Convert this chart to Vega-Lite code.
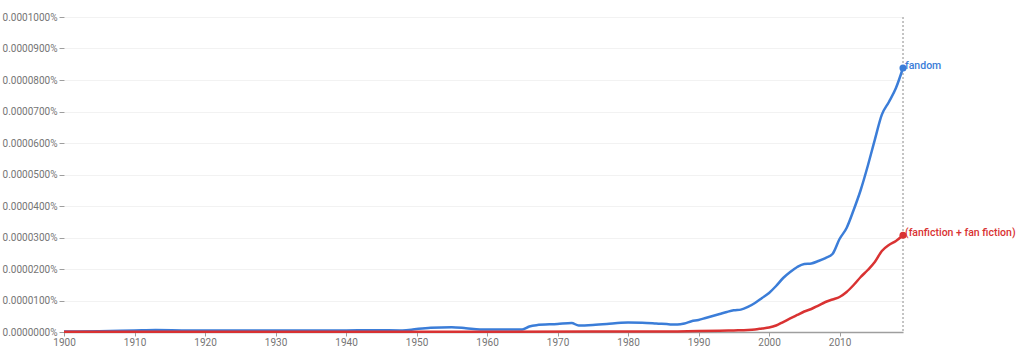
{
  "$schema": "https://vega.github.io/schema/vega-lite/v6.json",
  "width": 839,
  "height": 315,
  "autosize": {"type": "none"},
  "padding": {"left": 64, "top": 17, "right": 118, "bottom": 24},
  "background": "white",
  "config": {
    "view": {"stroke": null},
    "font": "Roboto",
    "axis": {"labelFont": "Roboto", "labelColor": "#757575", "labelFontSize": 10}
  },
  "data": {
    "values": [
      {"year": 1900, "value": 1.6e-9, "series": "fandom"},
      {"year": 1905, "value": 2.5e-9, "series": "fandom"},
      {"year": 1910, "value": 4.8e-9, "series": "fandom"},
      {"year": 1913, "value": 6.3e-9, "series": "fandom"},
      {"year": 1917, "value": 5.1e-9, "series": "fandom"},
      {"year": 1920, "value": 4.8e-9, "series": "fandom"},
      {"year": 1925, "value": 4.4e-9, "series": "fandom"},
      {"year": 1930, "value": 4.4e-9, "series": "fandom"},
      {"year": 1935, "value": 4.4e-9, "series": "fandom"},
      {"year": 1940, "value": 5.1e-9, "series": "fandom"},
      {"year": 1944, "value": 5.7e-9, "series": "fandom"},
      {"year": 1948, "value": 4.8e-9, "series": "fandom"},
      {"year": 1950, "value": 9.5e-9, "series": "fandom"},
      {"year": 1952, "value": 1.33e-8, "series": "fandom"},
      {"year": 1955, "value": 1.52e-8, "series": "fandom"},
      {"year": 1957, "value": 1.21e-8, "series": "fandom"},
      {"year": 1959, "value": 8.3e-9, "series": "fandom"},
      {"year": 1962, "value": 7.6e-9, "series": "fandom"},
      {"year": 1965, "value": 8.3e-9, "series": "fandom"},
      {"year": 1966, "value": 1.75e-8, "series": "fandom"},
      {"year": 1967, "value": 2.16e-8, "series": "fandom"},
      {"year": 1970, "value": 2.54e-8, "series": "fandom"},
      {"year": 1972, "value": 2.86e-8, "series": "fandom"},
      {"year": 1973, "value": 2.06e-8, "series": "fandom"},
      {"year": 1975, "value": 2.22e-8, "series": "fandom"},
      {"year": 1977, "value": 2.54e-8, "series": "fandom"},
      {"year": 1979, "value": 2.95e-8, "series": "fandom"},
      {"year": 1980, "value": 3.02e-8, "series": "fandom"},
      {"year": 1982, "value": 2.95e-8, "series": "fandom"},
      {"year": 1984, "value": 2.70e-8, "series": "fandom"},
      {"year": 1986, "value": 2.41e-8, "series": "fandom"},
      {"year": 1987, "value": 2.35e-8, "series": "fandom"},
      {"year": 1988, "value": 2.70e-8, "series": "fandom"},
      {"year": 1989, "value": 3.43e-8, "series": "fandom"},
      {"year": 1990, "value": 3.81e-8, "series": "fandom"},
      {"year": 1991, "value": 4.44e-8, "series": "fandom"},
      {"year": 1992, "value": 5.08e-8, "series": "fandom"},
      {"year": 1993, "value": 5.71e-8, "series": "fandom"},
      {"year": 1994, "value": 6.35e-8, "series": "fandom"},
      {"year": 1995, "value": 6.89e-8, "series": "fandom"},
      {"year": 1996, "value": 7.11e-8, "series": "fandom"},
      {"year": 1997, "value": 7.94e-8, "series": "fandom"},
      {"year": 1998, "value": 9.21e-8, "series": "fandom"},
      {"year": 1999, "value": 1.079e-7, "series": "fandom"},
      {"year": 2000, "value": 1.24e-7, "series": "fandom"},
      {"year": 2001, "value": 1.46e-7, "series": "fandom"},
      {"year": 2002, "value": 1.714e-7, "series": "fandom"},
      {"year": 2003, "value": 1.905e-7, "series": "fandom"},
      {"year": 2004, "value": 2.063e-7, "series": "fandom"},
      {"year": 2005, "value": 2.159e-7, "series": "fandom"},
      {"year": 2006, "value": 2.175e-7, "series": "fandom"},
      {"year": 2007, "value": 2.254e-7, "series": "fandom"},
      {"year": 2008, "value": 2.349e-7, "series": "fandom"},
      {"year": 2009, "value": 2.476e-7, "series": "fandom"},
      {"year": 2010, "value": 2.952e-7, "series": "fandom"},
      {"year": 2011, "value": 3.302e-7, "series": "fandom"},
      {"year": 2012, "value": 3.873e-7, "series": "fandom"},
      {"year": 2013, "value": 4.508e-7, "series": "fandom"},
      {"year": 2014, "value": 5.27e-7, "series": "fandom"},
      {"year": 2015, "value": 6.1e-7, "series": "fandom"},
      {"year": 2016, "value": 6.9e-7, "series": "fandom"},
      {"year": 2017, "value": 7.302e-7, "series": "fandom"},
      {"year": 2018, "value": 7.746e-7, "series": "fandom"},
      {"year": 2019, "value": 8.381e-7, "series": "fandom"},
      {"year": 1900, "value": 1.0e-9, "series": "(fanfiction + fan fiction)"},
      {"year": 1920, "value": 1.0e-9, "series": "(fanfiction + fan fiction)"},
      {"year": 1940, "value": 1.0e-9, "series": "(fanfiction + fan fiction)"},
      {"year": 1960, "value": 1.0e-9, "series": "(fanfiction + fan fiction)"},
      {"year": 1975, "value": 1.2e-9, "series": "(fanfiction + fan fiction)"},
      {"year": 1986, "value": 1.6e-9, "series": "(fanfiction + fan fiction)"},
      {"year": 1990, "value": 3.2e-9, "series": "(fanfiction + fan fiction)"},
      {"year": 1993, "value": 4.1e-9, "series": "(fanfiction + fan fiction)"},
      {"year": 1995, "value": 5.1e-9, "series": "(fanfiction + fan fiction)"},
      {"year": 1997, "value": 6.3e-9, "series": "(fanfiction + fan fiction)"},
      {"year": 1998, "value": 7.9e-9, "series": "(fanfiction + fan fiction)"},
      {"year": 1999, "value": 1.11e-8, "series": "(fanfiction + fan fiction)"},
      {"year": 2000, "value": 1.43e-8, "series": "(fanfiction + fan fiction)"},
      {"year": 2001, "value": 2.06e-8, "series": "(fanfiction + fan fiction)"},
      {"year": 2002, "value": 3.17e-8, "series": "(fanfiction + fan fiction)"},
      {"year": 2003, "value": 4.29e-8, "series": "(fanfiction + fan fiction)"},
      {"year": 2004, "value": 5.4e-8, "series": "(fanfiction + fan fiction)"},
      {"year": 2005, "value": 6.51e-8, "series": "(fanfiction + fan fiction)"},
      {"year": 2006, "value": 7.3e-8, "series": "(fanfiction + fan fiction)"},
      {"year": 2007, "value": 8.41e-8, "series": "(fanfiction + fan fiction)"},
      {"year": 2008, "value": 9.52e-8, "series": "(fanfiction + fan fiction)"},
      {"year": 2009, "value": 1.032e-7, "series": "(fanfiction + fan fiction)"},
      {"year": 2010, "value": 1.111e-7, "series": "(fanfiction + fan fiction)"},
      {"year": 2011, "value": 1.27e-7, "series": "(fanfiction + fan fiction)"},
      {"year": 2012, "value": 1.492e-7, "series": "(fanfiction + fan fiction)"},
      {"year": 2013, "value": 1.746e-7, "series": "(fanfiction + fan fiction)"},
      {"year": 2014, "value": 1.968e-7, "series": "(fanfiction + fan fiction)"},
      {"year": 2015, "value": 2.222e-7, "series": "(fanfiction + fan fiction)"},
      {"year": 2016, "value": 2.571e-7, "series": "(fanfiction + fan fiction)"},
      {"year": 2017, "value": 2.762e-7, "series": "(fanfiction + fan fiction)"},
      {"year": 2018, "value": 2.889e-7, "series": "(fanfiction + fan fiction)"},
      {"year": 2019, "value": 3.07e-7, "series": "(fanfiction + fan fiction)"}
    ]
  },
  "encoding": {
    "x": {
      "field": "year",
      "type": "quantitative",
      "scale": {"domain": [1900, 2019], "nice": false, "zero": false},
      "axis": {
        "title": null,
        "values": [1900, 1910, 1920, 1930, 1940, 1950, 1960, 1970, 1980, 1990, 2000, 2010],
        "format": "d",
        "grid": false,
        "labelFlush": false,
        "domainColor": "#9e9e9e",
        "domainWidth": 1.5,
        "tickColor": "#9e9e9e",
        "tickSize": 4,
        "labelPadding": 1
      }
    },
    "y": {
      "field": "value",
      "type": "quantitative",
      "scale": {"domain": [0, 1e-6], "nice": false},
      "axis": {
        "title": null,
        "values": [0, 1e-7, 2e-7, 3e-7, 4e-7, 5e-7, 6e-7, 7e-7, 8e-7, 9e-7, 1e-6],
        "format": ".7%",
        "domain": false,
        "grid": true,
        "gridColor": "#f2f2f2",
        "tickColor": "#9e9e9e",
        "tickSize": 5,
        "labelPadding": 2
      }
    },
    "color": {
      "field": "series",
      "type": "nominal",
      "scale": {"domain": ["fandom", "(fanfiction + fan fiction)"], "range": ["#3b7dd8", "#d93232"]},
      "legend": null
    }
  },
  "layer": [
    {
      "mark": {"type": "rule", "strokeDash": [2, 2], "strokeWidth": 0.8},
      "encoding": {"x": {"datum": 2019, "type": "quantitative"}, "y": {"value": 0}, "y2": {"value": 315}, "color": {"value": "#c4c4c4"}}
    },
    {
      "mark": {"type": "line", "interpolate": "monotone", "strokeWidth": 2.5}
    },
    {
      "transform": [{"filter": "datum.year == 2019"}],
      "mark": {"type": "point", "filled": true, "size": 50, "opacity": 1}
    },
    {
      "transform": [{"filter": "datum.year == 2019"}],
      "mark": {"type": "text", "align": "left", "baseline": "middle", "dx": 2, "dy": -2, "fontSize": 10.5, "fontWeight": 500},
      "encoding": {"text": {"field": "series"}}
    }
  ]
}
